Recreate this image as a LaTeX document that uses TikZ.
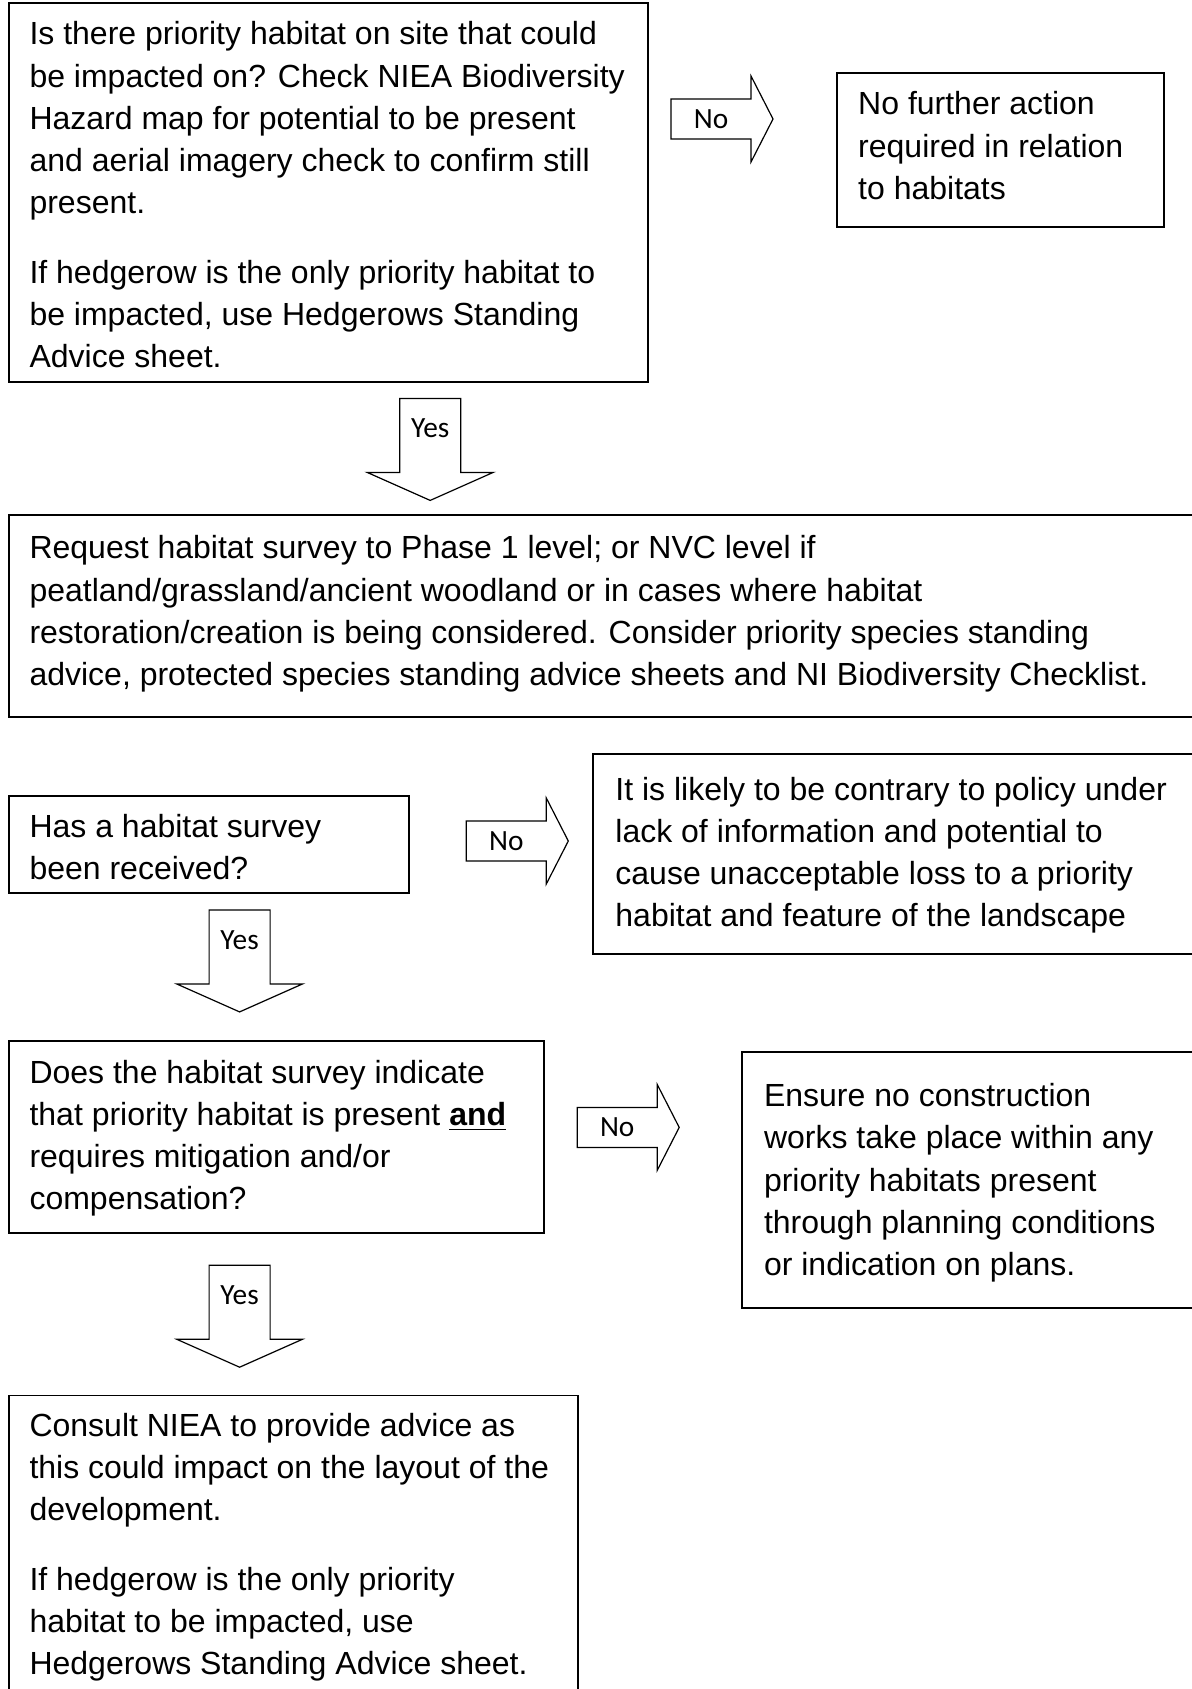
\documentclass[tikz,border=0pt]{standalone}
\usepackage{fontspec}
\setmainfont{Liberation Sans}
\newfontfamily\lblfont{Carlito}
\usepackage{tikz}
\usetikzlibrary{calc}
\usetikzlibrary{positioning}

\tikzset{
  box/.style={draw, line width=0.7pt},
  txt/.style={anchor=north west, align=left, inner sep=0pt, font=\fontsize{12pt}{15.8pt}\selectfont, execute at begin node=\strut},
  blk/.style={draw, line width=0.45pt},
  lbl/.style={inner sep=0pt, font=\lblfont\fontsize{11pt}{13pt}\selectfont},
  pics/noarrow/.style={code={
    \draw[blk] (0,-20) -- (80,-20) -- (80,-43) -- (102,0) -- (80,43) -- (80,20) -- (0,20) -- cycle;
    \node[lbl] (-t) at (40,0) {No};
  }},
  pics/yesarrow/.style={code={
    \draw[blk] (-30.5,0) -- (30.5,0) -- (30.5,74) -- (63,74) -- (0,102) -- (-63,74) -- (-30.5,74) -- cycle;
    \node[lbl] (-t) at (0,30) {Yes};
  }}
}

\begin{document}
\begin{tikzpicture}[x=0.375pt, y=-0.375pt]
\useasboundingbox (0,0) rectangle (1192,1689);
\clip (0,0) rectangle (1192,1689);

%Habitat check
\coordinate (habq) at (8.6,3.2);
\draw[box] (habq) rectangle +(639.4,378.8);
\node[txt] (habqt) at ([shift={(20.4,18)}]habq) {Is there priority habitat on site that could\\ be impacted on? Check NIEA Biodiversity\\ Hazard map for potential to be present\\ and aerial imagery check to confirm still\\ present.\\[10.5pt] If hedgerow is the only priority habitat to\\ be impacted, use Hedgerows Standing\\ Advice sheet.};

\pic (no1) at (671,119) {noarrow};

\coordinate (nfa) at (836.7,73.2);
\draw[box] (nfa) rectangle +(327.3,154);
\node[txt] (nfat) at ([shift={(21,18)}]nfa) {No further action\\ required in relation\\ to habitats};

\pic (yes1) at (430.2,398.4) {yesarrow};

%Survey request
\coordinate (req) at (8.6,514.7);
\draw[box] (req) rectangle +(1200,202.4);
\node[txt] (reqt) at ([shift={(20.4,20.5)}]req) {Request habitat survey to Phase 1 level; or NVC level if\\ peatland/grassland/ancient woodland or in cases where habitat\\ restoration/creation is being considered. Consider priority species standing\\ advice, protected species standing advice sheets and NI Biodiversity Checklist.};

\coordinate (srv) at (8.6,795.8);
\draw[box] (srv) rectangle +(400.6,96.9);
\node[txt] (srvt) at ([shift={(20.4,18)}]srv) {Has a habitat survey\\ been received?};

\pic (no2) at (466.3,841) {noarrow};

\coordinate (lik) at (593.3,753.8);
\draw[box] (lik) rectangle +(700,200.2);
\node[txt] (likt) at ([shift={(21.6,22.5)}]lik) {It is likely to be contrary to policy under\\ lack of information and potential to\\ cause unacceptable loss to a priority\\ habitat and feature of the landscape};

\pic (yes2) at (239.6,909.9) {yesarrow};

%Survey result
\coordinate (ind) at (8.6,1041.3);
\draw[box] (ind) rectangle +(535.2,191.6);
\node[txt] (indt) at ([shift={(20.4,18)}]ind) {Does the habitat survey indicate\\ that priority habitat is present \textbf{\underline{and}}\\ requires mitigation and/or\\ compensation?};

\pic (no3) at (577.2,1127.4) {noarrow};

\coordinate (ens) at (741.9,1052);
\draw[box] (ens) rectangle +(600,256.3);
\node[txt] (enst) at ([shift={(21.6,31)}]ens) {Ensure no construction\\ works take place within any\\ priority habitats present\\ through planning conditions\\ or indication on plans.};

\pic (yes3) at (239.6,1265.2) {yesarrow};

\coordinate (con) at (8.6,1395.5);
\draw[box] (con) rectangle +(569.6,400);
\node[txt] (cont) at ([shift={(20.4,17)}]con) {Consult NIEA to provide advice as\\ this could impact on the layout of the\\ development.\\[10.5pt] If hedgerow is the only priority\\ habitat to be impacted, use\\ Hedgerows Standing Advice sheet.};
\end{tikzpicture}
\end{document}
